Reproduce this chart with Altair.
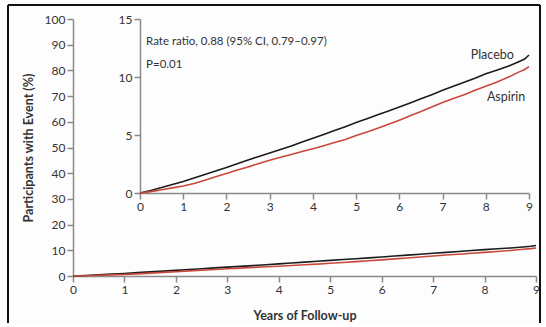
import altair as alt
import pandas as pd

# Cumulative incidence (%) by year of follow-up
years = [0.00, 0.25, 0.50, 0.75, 1.00, 1.25, 1.50, 1.75, 2.00, 2.25, 2.50, 2.75,
         3.00, 3.25, 3.50, 3.75, 4.00, 4.25, 4.50, 4.75, 5.00, 5.25, 5.50, 5.75,
         6.00, 6.25, 6.50, 6.75, 7.00, 7.25, 7.50, 7.75, 8.00, 8.25, 8.50, 8.75,
         8.90, 9.00]
placebo = [0.00, 0.22, 0.48, 0.74, 1.00, 1.30, 1.60, 1.90, 2.20, 2.52, 2.85, 3.15,
           3.45, 3.75, 4.05, 4.40, 4.72, 5.05, 5.38, 5.72, 6.08, 6.40, 6.74, 7.06,
           7.42, 7.76, 8.12, 8.48, 8.85, 9.20, 9.55, 9.90, 10.28, 10.58, 10.90, 11.30,
           11.55, 11.90]
aspirin = [0.00, 0.12, 0.28, 0.44, 0.60, 0.82, 1.10, 1.40, 1.68, 1.98, 2.25, 2.55,
           2.82, 3.08, 3.32, 3.58, 3.82, 4.08, 4.35, 4.62, 4.95, 5.25, 5.58, 5.92,
           6.28, 6.65, 7.02, 7.42, 7.80, 8.15, 8.48, 8.85, 9.20, 9.55, 9.95, 10.40,
           10.65, 10.90]

groups = ["Placebo", "Aspirin"]
group_colors = ["#1c1c1c", "#c9483c"]

main_y_ticks = list(range(0, 101, 10))
inset_y_ticks = [0, 5, 10, 15]
x_ticks = list(range(0, 10))

# Group labels and statistics text inside the inset
label_x = [8.15, 8.47]
label_y = [11.9, 8.3]
stat_lines = ["Rate ratio, 0.88 (95% CI, 0.79\u20130.97)", "P=0.01"]
stat_x = [0.14, 0.14]
stat_y = [13.0, 11.0]

df = pd.DataFrame({
    "year": years * 2,
    "pct": placebo + aspirin,
    "group": ["Placebo"] * len(years) + ["Aspirin"] * len(years),
})
labels_df = pd.DataFrame({"year": label_x, "pct": label_y, "group": groups})
stats_df = pd.DataFrame({"year": stat_x, "pct": stat_y, "text": stat_lines})

FONT = "Lato, Open Sans, sans-serif"
AX_GRAY = "#8a8a8a"
TXT = "#333333"

W, H = 463, 257
color = alt.Color("group:N", scale=alt.Scale(domain=groups, range=group_colors), legend=None)

axis_common = dict(grid=False, domainColor=AX_GRAY, tickColor=AX_GRAY, tickSize=6,
                   domainWidth=1.5, tickWidth=1.5, labelFont=FONT, labelFontSize=12,
                   labelColor=TXT, labelPadding=2, labelFlush=False,
                   titleFont=FONT, titleFontSize=12.5,
                   titleFontWeight="bold", titleColor=TXT)

# Full-scale panel (0-100%)
main = alt.Chart(df).mark_line(strokeWidth=1.6).encode(
    x=alt.X("year:Q", scale=alt.Scale(domain=[0, 9], nice=False),
            axis=alt.Axis(values=x_ticks, title="Years of Follow-up", titlePadding=14,
                          orient="bottom", **axis_common)),
    y=alt.Y("pct:Q", scale=alt.Scale(domain=[0, 100], nice=False),
            axis=alt.Axis(values=main_y_ticks, title="Participants with Event (%)",
                          titlePadding=9, orient="left", **axis_common)),
    color=color,
    detail="group:N",
)

# Zoomed inset (0-15%)
inset_x = alt.X("year:Q", scale=alt.Scale(domain=[0, 9], nice=False, range=[67, 456]),
                axis=alt.Axis(values=x_ticks, title=None, orient="bottom", offset=-83,
                              **axis_common))
inset_y = alt.Y("pct:Q", scale=alt.Scale(domain=[0, 15], nice=False, range=[174, 0]),
                axis=alt.Axis(values=inset_y_ticks, title=None, orient="left", offset=-67,
                              **axis_common))

inset_lines = alt.Chart(df).mark_line(strokeWidth=1.6).encode(
    x=inset_x, y=inset_y, color=color, detail="group:N")
inset_labels = alt.Chart(labels_df).mark_text(
    font=FONT, fontSize=12.5, color=TXT, align="center", baseline="middle"
).encode(x=inset_x, y=inset_y, text="group:N")
inset_stats = alt.Chart(stats_df).mark_text(
    font=FONT, fontSize=11.5, color=TXT, align="left", baseline="middle"
).encode(x=inset_x, y=inset_y, text="text:N")
inset = alt.layer(inset_lines, inset_labels, inset_stats)

# Figure frame (left, top, right edges)
frame_left = alt.Chart().mark_rule(color="#111111", strokeWidth=2).encode(
    x=alt.value(-65), y=alt.value(-14), y2=alt.value(304))
frame_right = alt.Chart().mark_rule(color="#111111", strokeWidth=2).encode(
    x=alt.value(467), y=alt.value(-14), y2=alt.value(304))
frame_top = alt.Chart().mark_rule(color="#111111", strokeWidth=2).encode(
    x=alt.value(-65), x2=alt.value(467), y=alt.value(-14))

chart = alt.layer(main, inset, frame_left, frame_right, frame_top).resolve_scale(
    x="independent", y="independent"
).properties(
    width=W, height=H,
    padding={"left": 7, "top": 4, "right": 2, "bottom": 0},
    background="#fdfdfd",
).configure_view(stroke=None)

chart.save("out.html", embed_options={"renderer": "svg", "actions": False})
